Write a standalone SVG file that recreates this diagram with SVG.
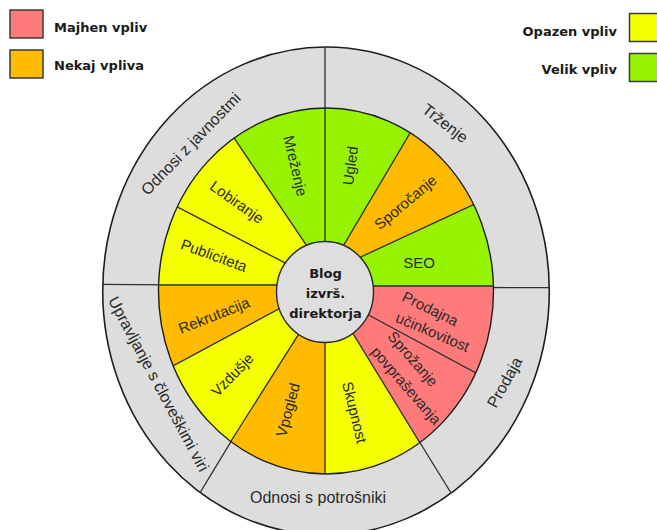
<svg xmlns="http://www.w3.org/2000/svg" width="657" height="530" viewBox="0 0 657 530">
<defs>
<style>
.seg{stroke:none}
.r{fill:#ff7b7b}.o{fill:#ffbb00}.y{fill:#f4ff00}.g{fill:#96f400}
.div{stroke:#2e2e2e;stroke-width:1.3;fill:none}
.lbl{font-family:"Liberation Sans",Arial,sans-serif;font-size:15px;fill:#2a2a2a;text-anchor:middle}
.ring{font-family:"Liberation Sans",Arial,sans-serif;font-size:16px;fill:#2a2a2a;text-anchor:middle}
.leg{font-family:"DejaVu Sans",Verdana,sans-serif;font-size:13px;font-weight:bold;fill:#1a1a1a}
.box{stroke:#3a3a3a;stroke-width:1.5}
.ctr{font-family:"DejaVu Sans",Verdana,sans-serif;font-size:13px;font-weight:bold;fill:#1a1a1a;text-anchor:middle}
</style>
<clipPath id="outerClip"><ellipse cx="326" cy="291" rx="223.3" ry="244"/></clipPath>
<clipPath id="innerClip"><ellipse cx="326" cy="291" rx="167.5" ry="183"/></clipPath>
</defs>
<rect width="657" height="530" fill="#ffffff"/>

<g id="legend">
<rect class="box r" x="10" y="10" width="33" height="28"/>
<text class="leg" x="54" y="32">Majhen vpliv</text>
<rect class="box o" x="10" y="50" width="33" height="28"/>
<text class="leg" x="54" y="70">Nekaj vpliva</text>
<rect class="box y" x="629.5" y="13.5" width="40" height="28"/>
<text class="leg" x="617" y="36" text-anchor="end">Opazen vpliv</text>
<rect class="box g" x="629.5" y="53.5" width="40" height="28"/>
<text class="leg" x="617" y="74" text-anchor="end">Velik vpliv</text>
</g>

<g id="outer-ring">
<ellipse cx="326" cy="291" rx="223.3" ry="244" fill="#dddddd"/>
<g clip-path="url(#outerClip)">
<line class="div" x1="325" y1="40" x2="325" y2="120"/>
<line class="div" x1="95" y1="284.3" x2="170" y2="284.8"/>
<line class="div" x1="480" y1="287.5" x2="556" y2="287.7"/>
<line class="div" x1="236" y1="433.4" x2="195" y2="501"/>
<line class="div" x1="414" y1="433" x2="456" y2="501"/>
</g>
<ellipse cx="326" cy="291" rx="223.3" ry="244" fill="none" stroke="#1e1e1e" stroke-width="1.6"/>
</g>

<g id="segments" clip-path="url(#innerClip)">
<path id="ugled" class="seg g" d="M325,290 L325,270 L325,-100 L473.6,25.6 L325.7,275.6 Z"/>
<path id="sporocanje" class="seg o" d="M325,290 L325.7,275.6 L473.6,25.6 L580.4,155 L332.7,270 Z"/>
<path id="seo" class="seg g" d="M325,290 L332.7,270 L580.4,155 L600,286 L340,286 Z"/>
<path id="prodajna" class="seg r" d="M325,290 L340,286 L600,286 L580.3,429.3 L340.4,299.8 Z"/>
<path id="sprozanje" class="seg r" d="M325,290 L340.4,299.8 L580.3,429.3 L483,546 L338.1,309.1 Z"/>
<path id="skupnost" class="seg y" d="M325,290 L338.1,309.1 L483,546 L325,600 L325,310 Z"/>
<path id="vpogled" class="seg o" d="M325,290 L325,310 L325,600 L165,545.4 L314.5,309.2 Z"/>
<path id="vzdusje" class="seg y" d="M325,290 L314.5,309.2 L165,545.4 L66.7,423.4 L308.2,293 Z"/>
<path id="rekrutacija" class="seg o" d="M325,290 L308.2,293 L66.7,423.4 L50,285 L310,285 Z"/>
<path id="publiciteta" class="seg y" d="M325,290 L310,285 L50,285 L70.7,151.7 L314.5,278.2 Z"/>
<path id="lobiranje" class="seg y" d="M325,290 L314.5,278.2 L70.7,151.7 L164.6,34.9 L324.9,272.7 Z"/>
<path id="mrezenje" class="seg g" d="M325,290 L324.9,272.7 L164.6,34.9 L325,-100 L325,270 Z"/>
<g id="connectors">
<line class="div" x1="325" y1="270" x2="325" y2="-100"/>
<line class="div" x1="325.7" y1="275.6" x2="473.6" y2="25.6"/>
<line class="div" x1="332.7" y1="270" x2="580.4" y2="155"/>
<line class="div" x1="340" y1="286" x2="600" y2="286"/>
<line class="div" x1="340.4" y1="299.8" x2="580.3" y2="429.3"/>
<line class="div" x1="338.1" y1="309.1" x2="483" y2="546"/>
<line class="div" x1="325" y1="310" x2="325" y2="600"/>
<line class="div" x1="314.5" y1="309.2" x2="165" y2="545.4"/>
<line class="div" x1="308.2" y1="293" x2="66.7" y2="423.4"/>
<line class="div" x1="310" y1="285" x2="50" y2="285"/>
<line class="div" x1="314.5" y1="278.2" x2="70.7" y2="151.7"/>
<line class="div" x1="324.9" y1="272.7" x2="164.6" y2="34.9"/>
</g>
</g>
<ellipse cx="326" cy="291" rx="167.5" ry="183" fill="none" stroke="#1e1e1e" stroke-width="1.4"/>

<g id="center">
<ellipse cx="325" cy="292" rx="48.5" ry="50.5" fill="#dedede" stroke="#2a2a2a" stroke-width="1.4"/>
<text class="ctr" x="325.5" y="278">Blog</text>
<text class="ctr" x="325.5" y="298">izvrš.</text>
<text class="ctr" x="325.5" y="318">direktorja</text>
</g>

<g id="ring-labels">
<text class="ring" dy=".32em" transform="translate(191,144) rotate(-46)">Odnosi z javnostmi</text>
<text class="ring" dy=".32em" transform="translate(445,123.5) rotate(37.6)">Trženje</text>
<text class="ring" dy=".32em" transform="translate(505,382.5) rotate(-61)">Prodaja</text>
<text class="ring" x="318" y="503">Odnosi s potrošniki</text>
<text class="ring" dy=".32em" transform="translate(158.3,384.2) rotate(61.9)">Upravljanje s človeškimi viri</text>
</g>

<g id="segment-labels">
<text class="lbl" dy=".32em" transform="translate(295,166) rotate(76.7)">Mreženje</text>
<text class="lbl" dy=".32em" transform="translate(350.8,165.8) rotate(-82.6)">Ugled</text>
<text class="lbl" dy=".32em" transform="translate(405.8,202.5) rotate(-40)">Sporočanje</text>
<text class="lbl" x="419.2" y="268.3">SEO</text>
<text class="lbl" dy=".32em" transform="translate(430,309.2) rotate(26)">Prodajna</text>
<text class="lbl" dy=".32em" transform="translate(432.5,332.5) rotate(23)">učinkovitost</text>
<text class="lbl" dy=".32em" transform="translate(412.5,359.2) rotate(49)">Sprožanje</text>
<text class="lbl" dy=".32em" transform="translate(405.8,385.8) rotate(49)">povpraševanja</text>
<text class="lbl" dy=".32em" transform="translate(354.2,412.5) rotate(76.3)">Skupnost</text>
<text class="lbl" dy=".32em" transform="translate(288.3,410) rotate(-75)">Vpogled</text>
<text class="lbl" dy=".32em" transform="translate(232.5,375) rotate(-46)">Vzdušje</text>
<text class="lbl" dy=".32em" transform="translate(214.2,315.8) rotate(-21.5)">Rekrutacija</text>
<text class="lbl" dy=".32em" transform="translate(213.8,255.8) rotate(20)">Publiciteta</text>
<text class="lbl" dy=".32em" transform="translate(236.7,202.5) rotate(35.7)">Lobiranje</text>
</g>
</svg>
